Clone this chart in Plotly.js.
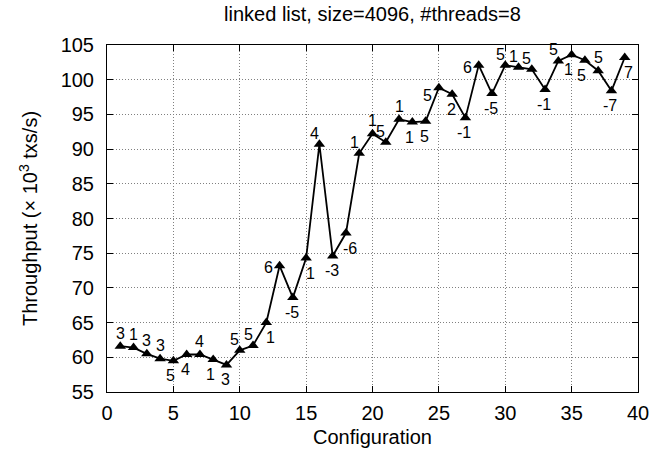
<!DOCTYPE html>
<html>
<head>
<meta charset="utf-8">
<script src="https://cdn.plot.ly/plotly-3.0.1.min.js"></script>
<style>
  html, body { margin: 0; padding: 0; background: #fff; }
  #chart { width: 667px; height: 458px; }
</style>
</head>
<body>
<div id="chart"></div>
<script>
// Configuration index
const configs = [1, 2, 3, 4, 5, 6, 7, 8, 9, 10, 11, 12, 13, 14, 15, 16, 17, 18, 19, 20,
                 21, 22, 23, 24, 25, 26, 27, 28, 29, 30, 31, 32, 33, 34, 35, 36, 37, 38, 39];

// Throughput in thousands of transactions per second
const throughput = [61.6, 61.4, 60.5, 59.8, 59.5, 60.4, 60.4, 59.7, 58.9, 61.0,
                    61.7, 65.0, 73.2, 68.6, 74.3, 90.7, 74.6, 77.9, 89.4, 92.2,
                    91.0, 94.3, 93.9, 94.0, 98.85, 97.9, 94.5, 102.1, 98.0, 102.1,
                    101.8, 101.5, 98.6, 102.7, 103.6, 102.8, 101.3, 98.4, 103.2];

// Parameter change applied at each configuration
const changes = ["3", "1", "3", "3", "5", "4", "4", "1", "3", "5",
                 "5", "1", "6", "-5", "1", "4", "-3", "-6", "1", "1",
                 "5", "1", "1", "5", "5", "2", "-1", "6", "-5", "5",
                 "1", "5", "-1", "5", "1", "5", "5", "-7", "7"];

// Where each change label sits relative to its point
const labelSide = ["t", "t", "t", "t", "bl", "b", "t", "bl", "b", "tl",
                   "tl", "br", "l", "b", "br", "tl", "b", "br", "tl", "t",
                   "tl", "t", "bl", "b", "lb", "b", "b", "l", "b", "tl",
                   "tl", "tl", "b", "tl", "bl", "bl", "t", "b", "br"];

const sideShift = {
  t:  [0, 13],
  tl: [-5, 11],
  l:  [-11, -2],
  lb: [-11, -8],
  b:  [-1, -15],
  bl: [-3, -15],
  br: [4, -15]
};

const FONT = "Liberation Sans, Arial, Helvetica, sans-serif";

const trace = {
  x: configs,
  y: throughput,
  type: "scatter",
  mode: "lines+markers",
  line: { color: "#000", width: 1.8 },
  marker: { symbol: "triangle-up", size: 10, color: "#000" },
  hoverinfo: "x+y",
  showlegend: false
};

const annotations = configs.map((c, i) => ({
  x: c,
  y: throughput[i],
  xref: "x",
  yref: "y",
  text: changes[i],
  showarrow: false,
  xshift: sideShift[labelSide[i]][0],
  yshift: sideShift[labelSide[i]][1],
  font: { family: FONT, size: 16, color: "#000" }
}));

const axisCommon = {
  showline: true,
  linecolor: "#000",
  linewidth: 1,
  mirror: "ticks",
  ticks: "inside",
  ticklen: 6,
  tickcolor: "#000",
  tickwidth: 1,
  showgrid: true,
  gridcolor: "#808080",
  griddash: "1px,2px",
  gridwidth: 1,
  zeroline: false,
  tickfont: { family: FONT, size: 20, color: "#000" }
};

const layout = {
  width: 667,
  height: 458,
  paper_bgcolor: "#fff",
  plot_bgcolor: "#fff",
  margin: { l: 107, r: 29, t: 45, b: 66 },
  title: {
    text: "linked list, size=4096, #threads=8",
    font: { family: FONT, size: 20, color: "#000" },
    x: 0.5,
    xref: "paper",
    y: 0.969,
    yref: "container",
    yanchor: "middle"
  },
  xaxis: Object.assign({}, axisCommon, {
    range: [0, 40],
    dtick: 5,
    tick0: 0,
    ticklabelstandoff: 3,
    title: { text: "Configuration", font: { family: FONT, size: 20, color: "#000" }, standoff: 6 }
  }),
  yaxis: Object.assign({}, axisCommon, {
    range: [55, 105],
    dtick: 5,
    tick0: 55,
    ticklabelstandoff: 8,
    title: { text: "Throughput (× 10<sup>3</sup> txs/s)", font: { family: FONT, size: 20, color: "#000" }, standoff: 17 }
  }),
  annotations: annotations
};

Plotly.newPlot("chart", [trace], layout, { displayModeBar: false, staticPlot: true });
</script>
</body>
</html>
